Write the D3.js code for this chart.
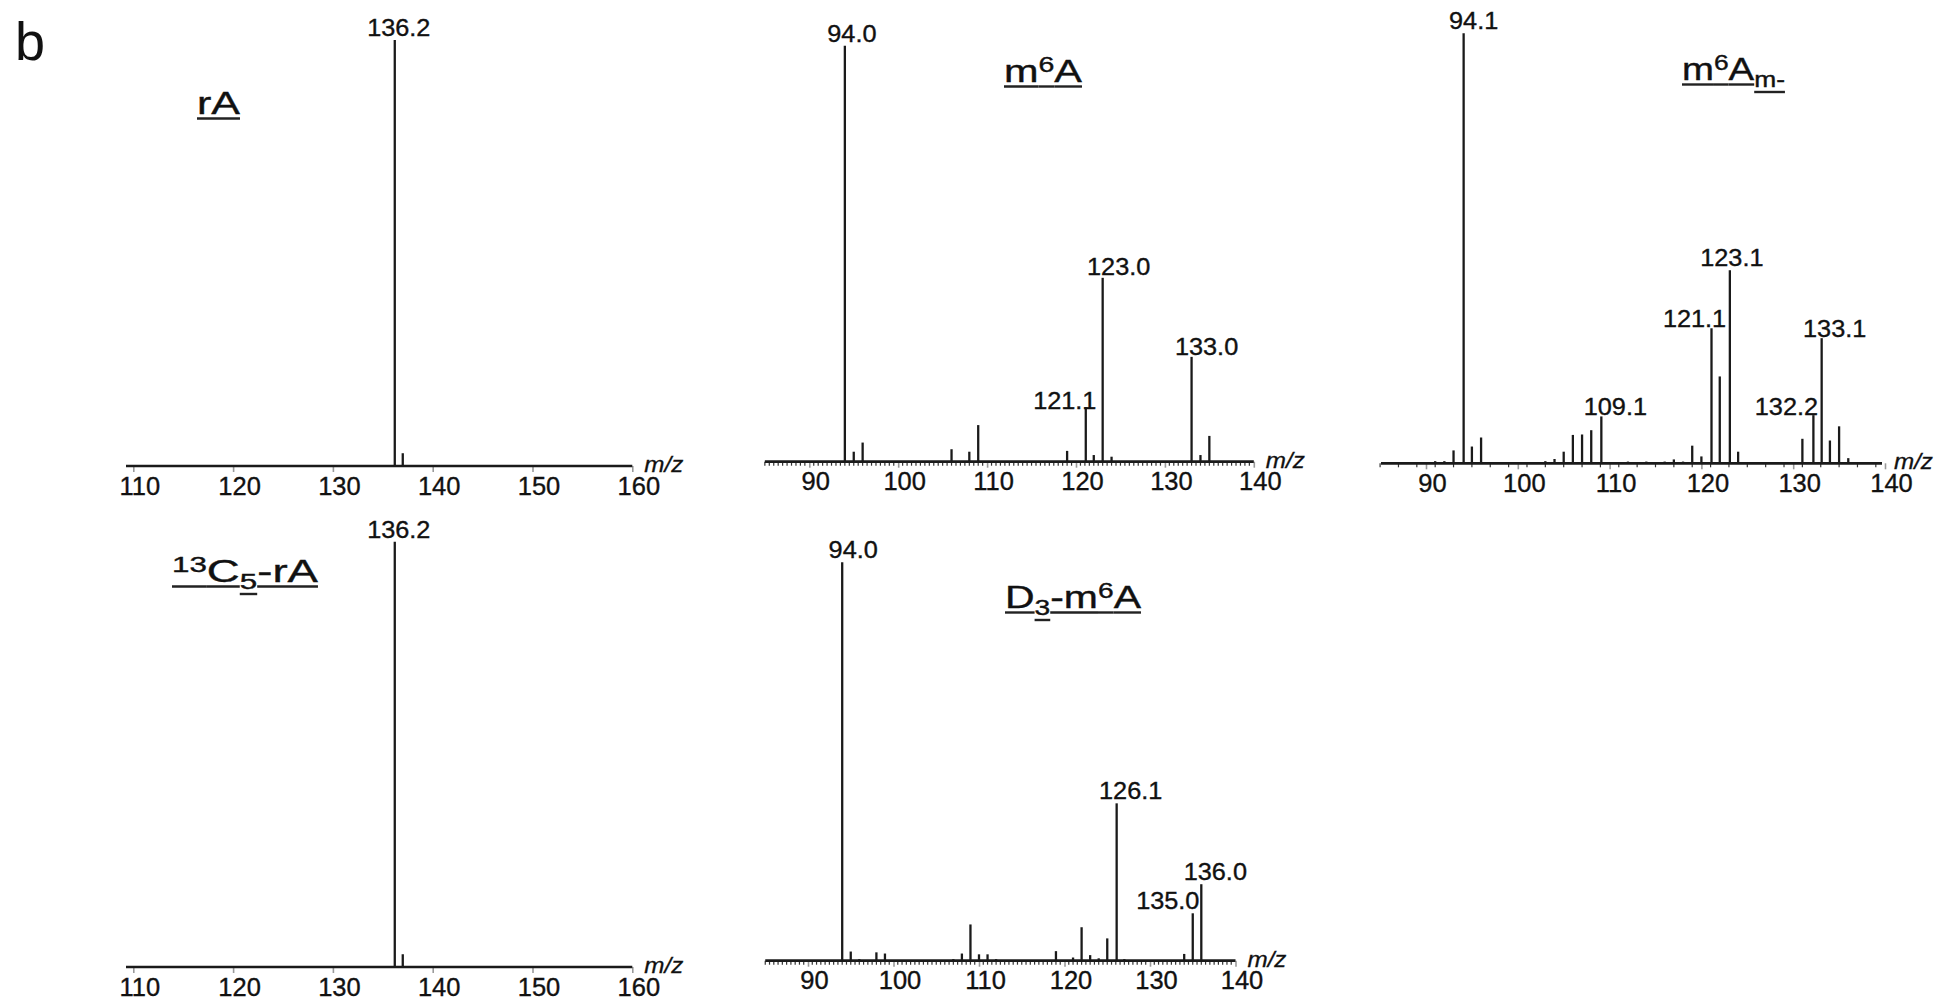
<!DOCTYPE html>
<html lang="en">
<head>
<meta charset="UTF-8">
<title>Product ion spectra (b)</title>
<script src="https://d3js.org/d3.v7.min.js"></script>
<style>
  body { margin: 0; background: #fff; }
  svg { display: block; font-family: "Liberation Sans", Arial, sans-serif; }
  .peak { stroke: #1a1a1a; stroke-width: 2.3; }
  .axis-line { stroke: #1a1a1a; stroke-width: 2.7; }
  .minor { stroke: #333; stroke-width: 1.2; }
  .axis .tick line { stroke: #9a9a9a; stroke-width: 1.6; }
  .axis .tick text { font-size: 25px; fill: #111; stroke: #111; stroke-width: 0.35; }
  .peak-label { font-size: 23px; fill: #111; stroke: #111; stroke-width: 0.35; }
  .unit { font-size: 22px; font-style: italic; fill: #111; stroke: #111; stroke-width: 0.3; }
  .title { font-size: 32px; fill: #111; stroke: #111; stroke-width: 0.4; }
  .uline { stroke: #222; stroke-width: 2.4; }
</style>
</head>
<body>
<svg width="1951" height="1004"></svg>
<script>
// ---- data (m/z, relative intensity %) ----
const rA_mz = [136.2, 137.0];
const rA_int = [100, 3.0];
const rA_labels = ["136.2"];

const c13rA_mz = [136.2, 137.0];
const c13rA_int = [100, 3.0];
const c13rA_labels = ["136.2"];

const m6A_mz = [94.0, 95, 96, 106, 108, 109, 119, 121.1, 122, 123.0, 124, 133.0, 134, 135];
const m6A_int = [100, 2.4, 4.6, 3.0, 2.4, 8.8, 2.6, 13.1, 1.6, 44.2, 1.2, 25.2, 1.6, 6.2];
const m6A_labels = ["94.0", "121.1", "123.0", "133.0"];

const m6Am_mz = [91, 92, 93, 94.1, 95, 96, 103, 104, 105, 106, 107, 108, 109.1, 112, 114, 116, 117, 118,
                 119, 120, 121.1, 122, 123.1, 124, 131, 132.2, 133.1, 134, 135, 136];
const m6Am_int = [0.5, 0.5, 3.0, 100, 3.9, 6.0, 0.5, 1.0, 2.7, 6.6, 6.7, 7.7, 10.9, 0.4, 0.4, 0.4, 0.9, 0.4,
                  4.1, 1.6, 31.4, 20.2, 44.9, 2.7, 5.7, 11.2, 29.1, 5.3, 8.6, 1.2];
const m6Am_labels = ["94.1", "109.1", "121.1", "123.1", "132.2", "133.1"];

const d3m6A_mz = [94.0, 95, 96, 98, 99, 107, 108, 109, 110, 111, 112, 119, 121, 122, 123, 124, 125, 126.1, 127,
                  134, 135.0, 136.0];
const d3m6A_int = [100, 2.3, 0.4, 2.1, 1.8, 0.4, 1.8, 9.1, 1.6, 1.6, 0.4, 2.4, 0.8, 8.4, 1.4, 0.6, 5.6, 39.5, 0.4,
                   1.7, 11.9, 19.2];
const d3m6A_labels = ["94.0", "126.1", "135.0", "136.0"];

const lowTicks = [110, 120, 130, 140, 150, 160];
const highTicks = [90, 100, 110, 120, 130, 140];

// title pieces: [text, kind]
const rA_title = [["rA", ""]];
const m6A_title = [["m", ""], ["6", "sup"], ["A", ""]];
const m6Am_title = [["m", ""], ["6", "sup"], ["A", ""], ["m-", "sub"]];
const c13rA_title = [["13", "sup"], ["C", ""], ["5", "sub"], ["-rA", ""]];
const d3m6A_title = [["D", ""], ["3", "sub"], ["-m", ""], ["6", "sup"], ["A", ""]];

// ---- layout ----
const panels = [
  { mz: rA_mz, int: rA_int, labels: rA_labels, title: rA_title, ticks: lowTicks,
    dom: [110, 160], px: [133.3, 632.3], line: [126, 632.3], axisY: 466, topY: 40, minor: 0,
    titleBox: [197, 114, 43], dx: { "136.2": 4 }, gap: {} },
  { mz: c13rA_mz, int: c13rA_int, labels: c13rA_labels, title: c13rA_title, ticks: lowTicks,
    dom: [110, 160], px: [133.3, 632.3], line: [126, 632.3], axisY: 967, topY: 541.7, minor: 0,
    titleBox: [172, 582, 146], dx: { "136.2": 4 }, gap: {} },
  { mz: m6A_mz, int: m6A_int, labels: m6A_labels, title: m6A_title, ticks: highTicks,
    dom: [85, 140], px: [764.85, 1253.8], line: [764.85, 1253.8], axisY: 461.7, topY: 45.7, minor: 0.5,
    titleBox: [1004, 82, 78], dx: { "94.0": 7, "121.1": -21, "123.0": 16, "133.0": 15 },
    gap: { "121.1": -2, "123.0": 3, "133.0": 2 } },
  { mz: m6Am_mz, int: m6Am_int, labels: m6Am_labels, title: m6Am_title, ticks: highTicks,
    dom: [85, 140], px: [1380.1, 1885], line: [1381, 1882], axisY: 463.3, topY: 33.3, minor: 2,
    titleBox: [1682, 80, 103], dx: { "94.1": 10, "109.1": 14, "121.1": -17, "123.1": 2, "132.2": -27, "133.1": 13 },
    gap: { "121.1": 1, "132.2": 0, "133.1": 1, "109.1": 1 } },
  { mz: d3m6A_mz, int: d3m6A_int, labels: d3m6A_labels, title: d3m6A_title, ticks: highTicks,
    dom: [85, 140], px: [765.25, 1235.5], line: [765.25, 1235.5], axisY: 960.7, topY: 562.3, minor: 0.5,
    titleBox: [1005, 608, 136], dx: { "94.0": 11, "126.1": 14, "135.0": -25, "136.0": 14 },
    gap: { "135.0": 4 } }
];

const svg = d3.select("svg");
svg.append("rect").attr("width", 1951).attr("height", 1004).attr("fill", "#fff");

// panel letter
svg.append("text").attr("x", 15).attr("y", 60)
   .style("font-size", "54px").attr("fill", "#111").text("b");

function stretched(g, x, y, str, cls, sx, anchor) {
  return g.append("text")
    .attr("class", cls)
    .attr("transform", `translate(${x},${y}) scale(${sx},1)`)
    .attr("text-anchor", anchor)
    .text(str);
}

panels.forEach(p => {
  const x = d3.scaleLinear().domain(p.dom).range(p.px);
  const y = d3.scaleLinear().domain([0, 100]).range([p.axisY, p.topY]);
  const g = svg.append("g");

  // minor ticks under the axis
  if (p.minor) {
    const vals = d3.range(p.dom[0], p.dom[1] + 1e-6, p.minor)
      .filter(v => Math.abs(v / 10 - Math.round(v / 10)) > 1e-6);
    g.selectAll(".minor").data(vals).join("line")
      .attr("class", "minor")
      .attr("x1", d => x(d)).attr("x2", d => x(d))
      .attr("y1", p.axisY).attr("y2", p.axisY + 4);
  }

  // major ticks + labels
  const ax = g.append("g")
    .attr("class", "axis")
    .attr("transform", `translate(0,${p.axisY})`)
    .call(d3.axisBottom(x).tickValues(p.ticks).tickSize(6).tickPadding(5).tickSizeOuter(0));
  ax.select(".domain").remove();
  ax.selectAll(".tick text")
    .attr("transform", "translate(6,0) scale(1.02,1)")
    .attr("fill", "#111");

  // baseline
  g.append("line").attr("class", "axis-line")
    .attr("x1", p.line[0]).attr("x2", p.line[1])
    .attr("y1", p.axisY).attr("y2", p.axisY);

  // peaks
  g.selectAll(".peak").data(d3.zip(p.mz, p.int)).join("line")
    .attr("class", "peak")
    .attr("x1", d => x(d[0])).attr("x2", d => x(d[0]))
    .attr("y1", p.axisY).attr("y2", d => y(d[1]));

  // peak labels
  p.labels.forEach(s => {
    const v = +s;
    const i = d3.minIndex(p.mz, m => Math.abs(m - v));
    const gap = p.gap[s] !== undefined ? p.gap[s] : 4;
    stretched(g, x(p.mz[i]) + (p.dx[s] || 0), y(p.int[i]) - gap, s, "peak-label", 1.1, "middle");
  });

  // m/z
  stretched(g, p.line[1] + 12, p.axisY + 6, "m/z", "unit", 1.1, "start");

  // title with sub/superscripts, underlined
  const [tx, ty, tw] = p.titleBox;
  const tg = g.append("g");
  const t = tg.append("text").attr("class", "title");
  p.title.forEach(([str, kind]) => {
    const ts = t.append("tspan").text(str);
    if (kind === "sup") ts.style("font-size", "22px").attr("baseline-shift", 10);
    if (kind === "sub") ts.style("font-size", "22px").attr("baseline-shift", -7);
  });
  const node = t.node();
  const natural = node.getComputedTextLength();
  tg.attr("transform", `translate(${tx},${ty}) scale(${tw / natural},1)`);
  let idx = 0;
  p.title.forEach(([str, kind]) => {
    const start = idx === 0 ? 0 : node.getSubStringLength(0, idx);
    const len = node.getSubStringLength(idx, str.length);
    tg.append("line").attr("class", "uline")
      .attr("x1", start).attr("x2", start + len)
      .attr("y1", kind === "sub" ? 12 : 4.5).attr("y2", kind === "sub" ? 12 : 4.5);
    idx += str.length;
  });
});
</script>
</body>
</html>
